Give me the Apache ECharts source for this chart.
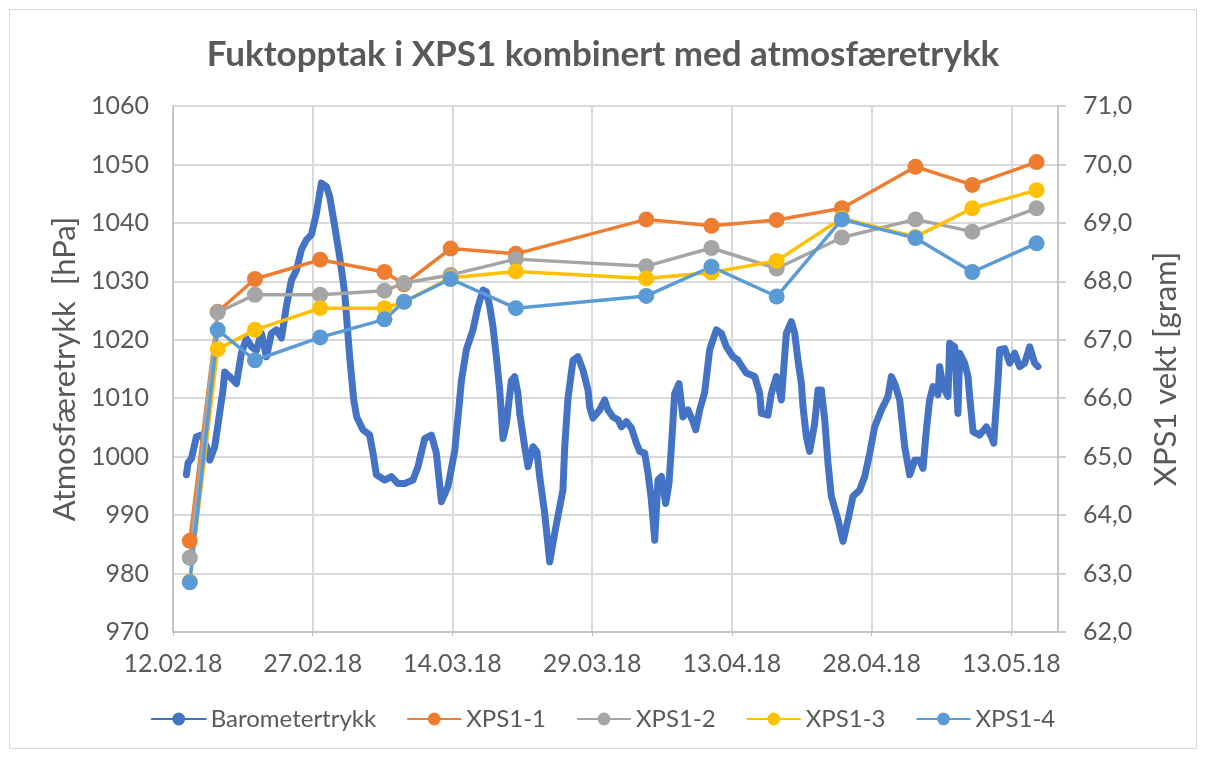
<!DOCTYPE html>
<html>
<head>
<meta charset="utf-8">
<script src="https://cdn.jsdelivr.net/npm/echarts@6/dist/echarts.min.js"></script>
<style>
  html, body { margin: 0; padding: 0; background: #fff; }
  #chart { width: 1206px; height: 758px; }
</style>
</head>
<body>
<div id="chart"></div>
<script>
// dager etter 12.02.18 (x) og lufttrykk i hPa
const baroDay = [1.44, 1.61, 1.98, 2.51, 3.05, 3.59, 3.94, 4.48, 5.01, 5.37, 5.55, 6.27, 6.81, 7.34, 7.88, 8.42, 8.95, 9.49, 10.03, 10.56,
  11.10, 11.64, 12.17, 12.71, 13.25, 13.78, 14.32, 14.86, 15.39, 15.93, 16.47, 16.82, 17.36, 17.89, 18.43, 18.97, 19.40, 19.72, 20.39, 21.11,
  21.47, 21.83, 22.72, 23.44, 24.15, 24.87, 25.76, 26.30, 27.02, 27.74, 28.27, 28.81, 29.52, 30.24, 30.67, 30.96, 31.49, 32.20, 32.74, 33.28,
  33.64, 34.00, 34.35, 34.71, 35.07, 35.25, 35.42, 35.79, 36.32, 36.68, 37.03, 37.22, 37.75, 38.11, 38.64, 39.07, 39.36, 39.90, 40.44, 40.97,
  41.51, 41.86, 42.05, 42.40, 42.94, 43.47, 44.01, 44.55, 44.73, 45.08, 45.80, 46.34, 46.69, 47.23, 47.77, 48.13, 48.67, 49.21, 49.74, 50.10,
  50.63, 50.99, 51.35, 51.71, 52.06, 52.43, 52.89, 53.24, 53.50, 53.85, 54.32, 54.74, 55.28, 55.82, 56.11, 56.54, 57.07, 57.61, 58.33, 58.87,
  59.40, 60.11, 60.65, 60.83, 61.55, 62.44, 62.98, 63.16, 63.87, 64.23, 64.77, 65.31, 65.84, 66.38, 66.74, 67.09, 67.45, 67.63, 67.99, 68.34,
  68.88, 69.24, 69.60, 69.96, 70.31, 70.67, 71.38, 71.92, 72.46, 72.99, 73.71, 74.25, 74.79, 75.32, 76.04, 76.75, 77.11, 77.47, 78.01, 78.54,
  79.08, 79.62, 80.15, 80.51, 80.87, 81.22, 81.58, 82.12, 82.30, 82.65, 83.19, 83.37, 83.91, 84.26, 84.45, 84.98, 85.34, 85.52, 85.88, 86.59,
  87.31, 87.85, 88.10, 88.31, 88.56, 88.74, 89.28, 89.81, 90.35, 90.89, 91.42, 91.96, 92.50, 92.85];
const baroHpa = [996.9, 998.9, 999.7, 1003.4, 1003.7, 1001.7, 999.4, 1001.7, 1007.5, 1011.4, 1014.5, 1013.4, 1012.5, 1017.7, 1020.2, 1018.8, 1018.2, 1021.1, 1017.1, 1021.1,
  1021.7, 1020.3, 1025.7, 1030.2, 1031.9, 1035.4, 1037.1, 1038.0, 1041.6, 1046.8, 1046.2, 1044.5, 1039.4, 1034.2, 1028.0, 1017.0, 1009.7, 1006.8, 1004.6, 1003.7,
  1000.6, 996.9, 996.0, 996.6, 995.4, 995.4, 996.0, 998.3, 1003.1, 1003.7, 1000.6, 992.3, 994.9, 1001.0, 1008.0, 1013.0, 1018.3, 1021.7, 1025.7, 1028.5,
  1028.2, 1025.7, 1022.2, 1017.1, 1011.4, 1007.4, 1003.1, 1005.7, 1013.0, 1013.7, 1010.8, 1007.4, 1001.7, 998.3, 1001.7, 1000.8, 996.6, 990.3, 982.0, 986.9,
  991.4, 994.3, 1001.7, 1010.0, 1016.5, 1017.1, 1014.8, 1011.4, 1008.5, 1006.6, 1008.0, 1009.7, 1008.0, 1006.8, 1006.3, 1005.1, 1006.0, 1004.9, 1002.3, 1000.9,
  1000.6, 997.2, 992.6, 985.7, 996.0, 996.6, 992.0, 995.4, 1001.7, 1010.8, 1012.5, 1006.8, 1008.0, 1006.0, 1004.6, 1008.0, 1011.0, 1018.3, 1021.7, 1021.1,
  1018.8, 1017.1, 1016.5, 1016.0, 1014.3, 1013.7, 1010.8, 1007.4, 1007.1, 1010.8, 1013.7, 1009.7, 1021.1, 1023.1, 1021.1, 1016.5, 1012.5, 1008.5, 1003.4, 1000.9,
  1005.7, 1011.4, 1011.4, 1006.3, 998.9, 993.2, 989.2, 985.5, 989.2, 993.2, 994.3, 996.6, 1000.6, 1005.1, 1008.0, 1010.3, 1013.7, 1012.5, 1009.7, 1001.7,
  996.9, 999.4, 999.4, 998.0, 1004.6, 1009.7, 1012.0, 1010.6, 1015.4, 1012.0, 1010.3, 1019.4, 1018.8, 1007.4, 1017.7, 1016.0, 1013.7, 1010.3, 1004.3, 1003.7,
  1005.1, 1003.4, 1002.3, 1007.4, 1013.0, 1018.3, 1018.5, 1016.0, 1017.7, 1015.4, 1016.0, 1018.8, 1016.0, 1015.4];

// veiedager (dager etter 12.02.18) og vekt i gram
const xpsDay = [1.8, 4.8, 8.8, 15.8, 22.7, 24.8, 29.8, 36.8, 50.8, 57.8, 64.8, 71.8, 79.7, 85.8, 92.7];
const xps1 = [63.56, 67.48, 68.04, 68.37, 68.16, 67.95, 68.56, 68.47, 69.06, 68.95, 69.05, 69.25, 69.96, 69.65, 70.04];
const xps2 = [63.27, 67.47, 67.77, 67.77, 67.84, 67.97, 68.11, 68.38, 68.26, 68.57, 68.22, 68.75, 69.06, 68.85, 69.25];
const xps3 = [62.86, 66.84, 67.17, 67.54, 67.54, 67.65, 68.06, 68.17, 68.05, 68.15, 68.35, 69.08, 68.76, 69.25, 69.56];
const xps4 = [62.85, 67.17, 66.65, 67.04, 67.35, 67.65, 68.04, 67.54, 67.75, 68.25, 67.74, 69.06, 68.74, 68.16, 68.65];

const font = 'Lato, "Open Sans", sans-serif';
const txt = '#595959';

function dato(d) {
  const t = new Date(Date.UTC(2018, 1, 12 + Math.round(d)));
  const p = n => String(n).padStart(2, '0');
  return p(t.getUTCDate()) + '.' + p(t.getUTCMonth() + 1) + '.' + String(t.getUTCFullYear()).slice(2);
}

function xpsSerie(navn, verdier, farge) {
  return {
    name: navn,
    type: 'line',
    yAxisIndex: 1,
    data: xpsDay.map((d, i) => [d, verdier[i]]),
    symbol: 'circle',
    symbolSize: 16,
    color: farge,
    lineStyle: { width: 3.5, color: farge },
    itemStyle: { color: farge },
    animation: false
  };
}

const chart = echarts.init(document.getElementById('chart'));
chart.setOption({
  backgroundColor: '#fff',
  textStyle: { fontFamily: font },
  title: {
    text: 'Fuktopptak i XPS1 kombinert med atmosfæretrykk',
    left: 'center',
    top: 32,
    textStyle: { fontFamily: font, fontSize: 35, fontWeight: 'bold', color: txt }
  },
  graphic: [{
    type: 'rect',
    shape: { x: 9.5, y: 9.5, width: 1187, height: 739 },
    style: { fill: 'none', stroke: '#D9D9D9', lineWidth: 1 },
    silent: true
  }],
  legend: {
    bottom: 22,
    left: 'center',
    itemWidth: 54,
    itemHeight: 16,
    itemGap: 30,
    textStyle: { fontFamily: font, fontSize: 24, color: txt },
    data: ['Barometertrykk', 'XPS1-1', 'XPS1-2', 'XPS1-3', 'XPS1-4']
  },
  grid: { left: 173, right: 148, top: 106, bottom: 126, containLabel: false, outerBoundsMode: 'none' },
  xAxis: {
    type: 'value',
    min: 0,
    max: 95,
    interval: 15,
    axisLine: { lineStyle: { color: '#BFBFBF', width: 1.5 } },
    axisTick: { show: true, length: 4, lineStyle: { color: '#BFBFBF' } },
    splitLine: { show: true, lineStyle: { color: '#D9D9D9', width: 2 } },
    axisLabel: {
      formatter: v => dato(v),
      showMaxLabel: false,
      margin: 19,
      fontFamily: font, fontSize: 25, color: txt
    }
  },
  yAxis: [{
    type: 'value',
    min: 970,
    max: 1060,
    interval: 10,
    name: 'Atmosfæretrykk  [hPa]',
    nameLocation: 'middle',
    nameGap: 70,
    nameTextStyle: { fontFamily: font, fontSize: 31, color: txt },
    axisLine: { show: true, lineStyle: { color: '#BFBFBF', width: 1.5 } },
    axisTick: { show: false },
    splitLine: { show: true, lineStyle: { color: '#D9D9D9', width: 2 } },
    axisLabel: { margin: 24, formatter: v => String(v), fontFamily: font, fontSize: 25, color: txt }
  }, {
    type: 'value',
    min: 62,
    max: 71,
    interval: 1,
    name: 'XPS1 vekt [gram]',
    nameLocation: 'middle',
    nameGap: 92,
    nameTextStyle: { fontFamily: font, fontSize: 31, color: txt },
    axisLine: { show: true, lineStyle: { color: '#BFBFBF', width: 1.5 } },
    axisTick: { show: true, inside: false, length: 8, lineStyle: { color: '#BFBFBF', width: 1.5 } },
    splitLine: { show: false },
    axisLabel: {
      margin: 25,
      formatter: v => v.toFixed(1).replace('.', ','),
      fontFamily: font, fontSize: 25, color: txt
    }
  }],
  series: [{
    name: 'Barometertrykk',
    type: 'line',
    yAxisIndex: 0,
    data: baroDay.map((d, i) => [d, baroHpa[i]]),
    symbol: 'circle',
    symbolSize: 5,
    showSymbol: false,
    color: '#4472C4',
    lineStyle: { width: 7, color: '#4472C4', join: 'round', cap: 'round' },
    itemStyle: { color: '#4472C4' },
    animation: false
  },
    xpsSerie('XPS1-1', xps1, '#ED7D31'),
    xpsSerie('XPS1-2', xps2, '#A5A5A5'),
    xpsSerie('XPS1-3', xps3, '#FFC000'),
    xpsSerie('XPS1-4', xps4, '#5B9BD5')
  ]
});
</script>
</body>
</html>
